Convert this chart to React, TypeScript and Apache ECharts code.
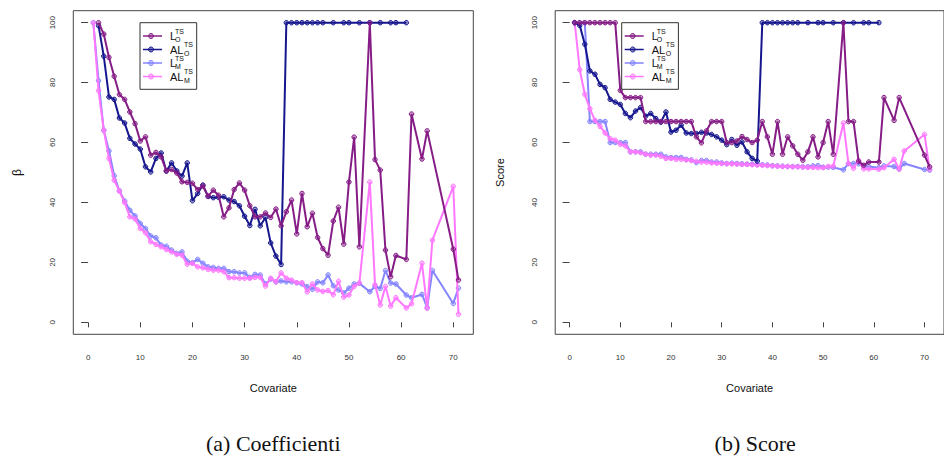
import React, { useEffect, useRef } from "react";
import * as echarts from "echarts";

// ---------- x positions (number of covariates) ----------
const X_M = [1,2,3,4,5,6,7,8,9,10,11,12,13,14,15,16,17,18,19,20,21,22,23,24,25,26,27,28,29,30,31,32,33,34,35,36,37,38,39,40,41,42,43,44,45,46,47,48,49,50,51,52,54,55,56,57,58,59,61,62,64,65,66,70,71];
const X_LO_A = [2,3,4,5,6,7,8,9,10,11,12,13,14,15,16,17,18,19,20,21,22,23,24,25,26,27,28,29,30,31,32,33,34,35,36,37,38,39,40,41,42,43,44,45,46,47,48,49,50,51,52,54,55,56,57,58,59,61,62,64,65,70,71];
const X_LO_B = [1,2,3,4,5,6,7,8,9,10,11,12,13,14,15,16,17,18,19,20,21,22,23,24,25,26,27,28,29,30,31,32,33,34,35,36,37,38,39,40,41,42,43,44,45,46,47,48,49,50,51,52,54,55,56,57,58,59,61,62,64,65,70,71];
const X_ALO_A = [2,3,4,5,6,7,8,9,10,11,12,13,14,15,16,17,18,19,20,21,22,23,24,25,26,27,28,29,30,31,32,33,34,35,36,37,38,39,40,41,42,43,44,45,47,49,50,52,54,56,58,59,61];
const X_ALO_B = [1,2,3,4,5,6,7,8,9,10,11,12,13,14,15,16,17,18,19,20,21,22,23,24,25,26,27,28,29,30,31,32,33,34,35,36,37,38,39,40,41,42,43,44,45,47,49,50,52,54,56,58,59,61];

// ---------- (a) Coefficienti ----------
const LO_A = [100,96.2,88.4,82.1,76,74.4,70.2,66.3,60.5,61.9,55.8,56.7,55.2,50.5,51,49.8,46.9,46.7,46.4,44.3,45.5,42.1,44.1,42.4,35.2,38.2,44.3,46.5,44.1,38.9,35.2,35.2,36.5,35,37.8,32.2,36.9,40.8,29.5,43,31.9,36.4,28.3,24.6,22.4,33.8,38.4,26.1,46.8,61.8,25.2,100,54.3,50.8,24.1,15.2,22.3,21,69.5,54.5,63.9,24.4,14.1];
const ALO_A = [99,88.8,75.2,74.4,68.2,66.5,61.4,59.5,57.8,51.9,50.2,54.7,56.5,50.5,53.2,50.5,48.8,53.2,40.6,43,45.8,42,41.6,41.7,41.9,40.8,40.3,38.9,35.4,32.3,37.7,32.2,35,26.5,22.1,19.3,100,100,100,100,100,100,100,100,100,100,100,100,100,100,100,100,100];
const LM_A = [100,80.6,64.1,57.2,48.9,43.9,40.5,37.4,35.5,33,31.3,28.8,28.2,25.8,25.4,24.1,23,23.5,20.4,19.9,21,19.7,18.5,18.3,18,18,16.9,16.9,16.5,16.5,15,16,15.8,12.8,14.4,13.5,13.8,13.5,13.5,13.2,12.8,11.9,11,13.5,13.2,15.8,12.2,10.8,9.8,11.4,12.8,13,10.2,12,11.3,17.3,13.1,12.8,9.1,8.2,9.3,4.9,17.3,6.3,11.4];
const ALM_A = [100,77.3,64.1,54.7,47.4,43.8,40,35.2,34.5,31.3,29.9,26.9,26,25.2,24.3,23.5,22.7,22.4,19.4,19.7,18.5,18.2,17.7,17.4,17.4,16.9,14.9,14.9,14.7,14.7,14.7,15,15,12.1,14.7,13.5,16.5,14.7,14.1,13.2,13.2,10.2,12.8,10.8,10.3,10.6,9.2,13.7,8.4,9.1,12,13.1,46.8,12.5,5.8,12,5.4,8.2,4.8,6.2,19.7,4.7,27.4,45.4,2.7];

// ---------- (b) Score ----------
const LO_B = [100,100,100,100,100,100,100,100,100,77.4,75,75,75,75,67,67,67,67,67,67,67,67,67,67,61.9,59.9,63.9,67,67,67,60,60,60.5,62,61,60,60.8,67,61.9,56.1,67,56.1,61.9,58.9,56.1,54.1,56.9,61.9,55.2,60,67,56.1,100,67,67,53.7,52.4,53.5,53.5,75,67.4,75,55.8,51.9];
const ALO_B = [100,99.1,92.8,83.9,82.8,79.4,78.3,74.4,73.5,72.7,69.7,68.3,70.5,71.7,68.8,69.7,68,66.8,70.2,63.5,64.1,65.8,63.2,63,63,63.4,63.2,62.7,61.9,60.8,59.3,61,59.1,60.2,56.9,54.7,53.8,100,100,100,100,100,100,100,100,100,100,100,100,100,100,100,100,100];
const LM_B = [100,100,100,67,67,67,67,60,60,60,60,56.9,56.9,56.9,56.1,56.1,56.1,56.1,55.2,55,55,55,54.4,54.2,53.3,54,54,53.5,53.5,53.2,53,53.1,53,52.9,52.8,52.8,52.7,52.6,52.5,52.3,52.2,52.1,52,52,52,51.9,51.9,52.2,52.3,51.8,51.8,51.7,50.9,53,53,52.9,52.1,52,51.6,52.2,52,51.2,53,51,50.8];
const ALM_B = [100,84.3,76.1,71.3,67.4,65.4,63.2,61.3,60.8,59.4,58.9,56.9,56.9,56.6,56.1,55.8,55.8,55.4,54.7,54.7,54.4,54.4,54.2,54,53.7,53.5,53.4,53.2,53.1,53,52.9,52.9,52.8,52.7,52.7,52.6,52.5,52.4,52.3,52.2,52.1,52,52,51.9,51.9,51.8,51.7,51.7,51.6,51.6,52,52.1,66.5,53,51.4,54,51.2,51.2,51.1,51.6,54.4,51.1,57.2,62.7,51];

const X_TICKS = [0, 10, 20, 30, 40, 50, 60, 70];
const Y_TICKS = [0, 20, 40, 60, 80, 100];
const PANEL_TITLES = ["(a) Coefficienti", "(b) Score"];
const Y_NAMES = ["\u03b2", "Score"];
const X_NAME = "Covariate";

const C_LO = "#861c86";
const C_ALO = "#16168e";
const C_LM = "#8585ff";
const C_ALM = "#ff78ff";
const FILL = {
  [C_LO]: "rgba(134,28,134,0.45)",
  [C_ALO]: "rgba(22,22,142,0.45)",
  [C_LM]: "rgba(133,133,255,0.45)",
  [C_ALM]: "rgba(255,120,255,0.45)",
};

const LEGEND = [
  { main: "L", sub: "O", color: C_LO, w: 5 },
  { main: "AL", sub: "O", color: C_ALO, w: 14 },
  { main: "L", sub: "M", color: C_LM, w: 5 },
  { main: "AL", sub: "M", color: C_ALM, w: 14 },
];

const GRID_W = 400;
const GRID_H = 323.6;
const GRID_TOP = 10.7;
const GRID_LEFTS = [73.3, 555.2];
const FONT = "'Liberation Sans', Arial, sans-serif";

function pairs(xs: number[], ys: number[]) {
  return xs.map((x, i) => [x, ys[i]]);
}

function line(name: string, xs: number[], ys: number[], color: string, idx: number, z: number) {
  return {
    type: "line",
    name,
    xAxisIndex: idx,
    yAxisIndex: idx,
    data: pairs(xs, ys),
    symbol: "circle",
    symbolSize: 4.5,
    showSymbol: true,
    z,
    silent: true,
    lineStyle: { color, width: 2 },
    itemStyle: { color: (FILL as any)[color], borderColor: color, borderWidth: 1 },
  };
}

function legendElements(bx: number) {
  const els: any[] = [
    {
      type: "rect",
      shape: { x: bx, y: 22.7, width: 56.7, height: 66.6 },
      style: { fill: "#fff", stroke: "#333", lineWidth: 1 },
      z: 100,
    },
  ];
  LEGEND.forEach((e, i) => {
    const y = 36 + i * 13.5;
    els.push({
      type: "line",
      shape: { x1: bx + 3, y1: y, x2: bx + 22, y2: y },
      style: { stroke: e.color, lineWidth: 1.5 },
      z: 101,
    });
    els.push({
      type: "circle",
      shape: { cx: bx + 11, cy: y, r: 2.5 },
      style: { stroke: e.color, fill: (FILL as any)[e.color], lineWidth: 1 },
      z: 102,
    });
    els.push({
      type: "text",
      x: bx + 30,
      y: y,
      style: { text: e.main, font: `11px ${FONT}`, fill: "#111", verticalAlign: "middle" },
      z: 102,
    });
    els.push({
      type: "text",
      x: bx + 30 + e.w,
      y: y + 3.5,
      style: { text: e.sub, font: `7px ${FONT}`, fill: "#111", verticalAlign: "middle" },
      z: 102,
    });
    els.push({
      type: "text",
      x: bx + 30 + e.w,
      y: y - 5,
      style: { text: "TS", font: `7px ${FONT}`, fill: "#111", verticalAlign: "middle" },
      z: 102,
    });
  });
  return els;
}

export default function App() {
  const ref = useRef<HTMLDivElement>(null);
  useEffect(() => {
    if (!ref.current) return;
    const chart = echarts.init(ref.current, null, { renderer: "svg" });
    const grids = GRID_LEFTS.map((left) => ({
      left,
      top: GRID_TOP,
      width: GRID_W,
      height: GRID_H,
      show: true,
      borderColor: "#444",
      borderWidth: 1,
      backgroundColor: "transparent",
    }));
    const xAxes = GRID_LEFTS.map((_, i) => ({
      type: "value",
      gridIndex: i,
      min: -2.84,
      max: 73.84,
      offset: 3,
      name: X_NAME,
      nameLocation: "middle",
      nameGap: 45,
      nameTextStyle: { fontFamily: FONT, fontSize: 11, color: "#111" },
      axisLine: { show: false },
      axisTick: { show: true, length: 5, lineStyle: { color: "#444" }, customValues: X_TICKS },
      axisLabel: { fontFamily: FONT, fontSize: 8, color: "#333", margin: 16, customValues: X_TICKS },
      splitLine: { show: false },
    }));
    const yAxes = GRID_LEFTS.map((_, i) => ({
      type: "value",
      gridIndex: i,
      min: -4,
      max: 104,
      name: Y_NAMES[i],
      nameLocation: "middle",
      nameRotate: 90,
      nameGap: 50,
      nameTextStyle: { fontFamily: FONT, fontSize: i === 0 ? 12 : 11, color: "#111" },
      axisLine: { show: false },
      axisTick: { show: true, length: 7, lineStyle: { color: "#444" }, customValues: Y_TICKS },
      axisLabel: { fontFamily: FONT, fontSize: 8, color: "#333", rotate: 90, margin: 17, customValues: Y_TICKS },
      splitLine: { show: false },
    }));
    const series = [
      line("L_M^TS (a)", X_M, LM_A, C_LM, 0, 2),
      line("AL_M^TS (a)", X_M, ALM_A, C_ALM, 0, 3),
      line("AL_O^TS (a)", X_ALO_A, ALO_A, C_ALO, 0, 4),
      line("L_O^TS (a)", X_LO_A, LO_A, C_LO, 0, 5),
      line("L_M^TS (b)", X_M, LM_B, C_LM, 1, 2),
      line("AL_M^TS (b)", X_M, ALM_B, C_ALM, 1, 3),
      line("AL_O^TS (b)", X_ALO_B, ALO_B, C_ALO, 1, 4),
      line("L_O^TS (b)", X_LO_B, LO_B, C_LO, 1, 5),
    ];
    const captions = PANEL_TITLES.map((t, i) => ({
      type: "text",
      x: GRID_LEFTS[i] + GRID_W / 2,
      y: 443,
      style: {
        text: t,
        font: "22px 'Liberation Serif', 'DejaVu Serif', serif",
        fill: "#111",
        align: "center",
        verticalAlign: "middle",
      },
    }));
    chart.setOption({
      animation: false,
      backgroundColor: "#fff",
      grid: grids,
      xAxis: xAxes,
      yAxis: yAxes,
      series,
      graphic: [...legendElements(140), ...legendElements(621.7), ...captions],
    });
    return () => chart.dispose();
  }, []);
  return (
    <div
      ref={ref}
      style={{ position: "absolute", left: 0, top: 0, width: 944, height: 459, background: "#fff" }}
    />
  );
}
